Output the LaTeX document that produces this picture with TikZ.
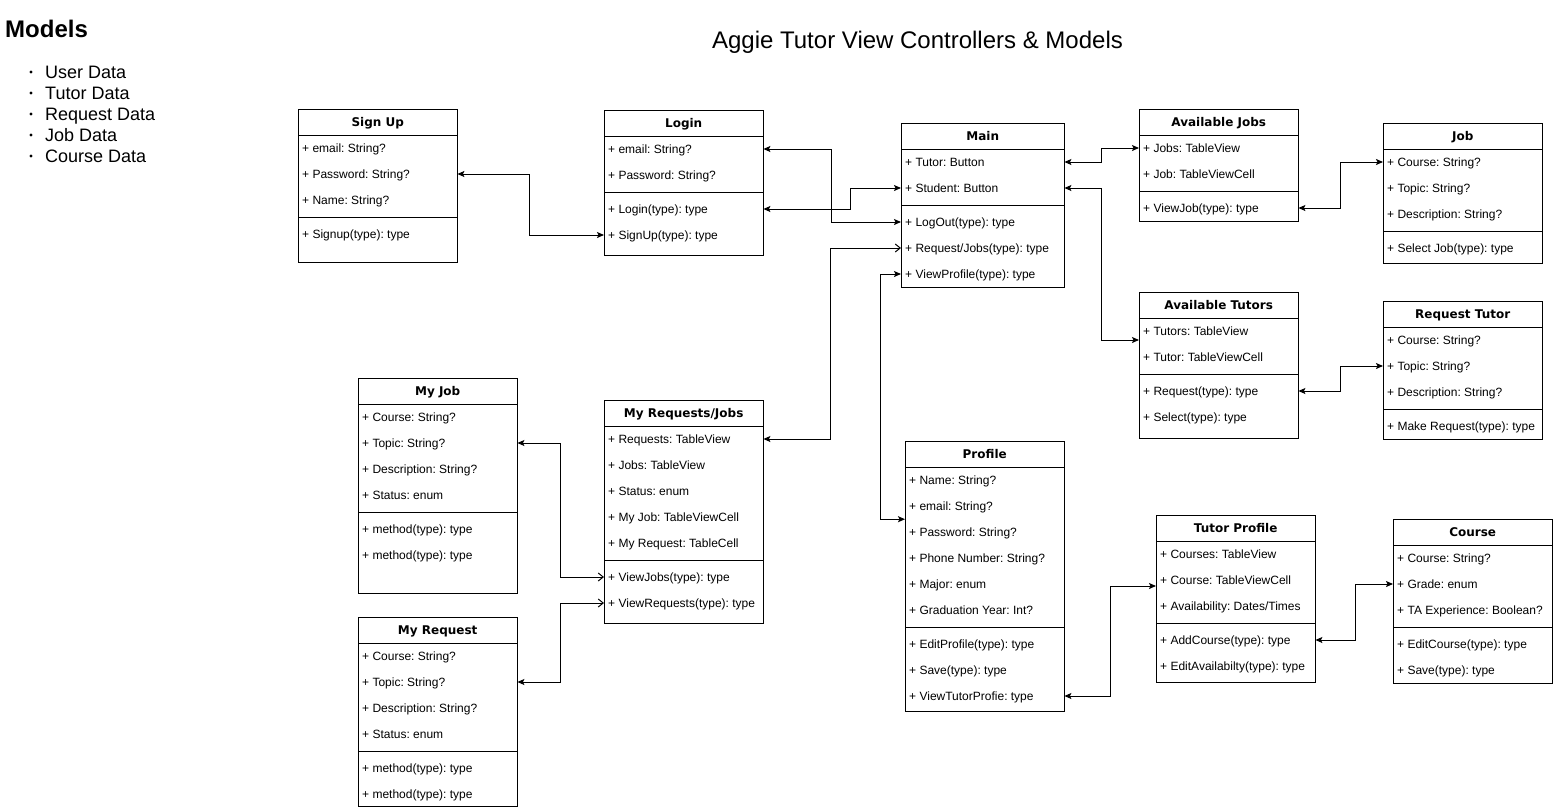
\documentclass[tikz,border=0pt]{standalone}
\usepackage{fontspec}
\setmainfont{Liberation Sans}
\newfontfamily\headfont{DejaVu Sans}
\usepackage{tikz}
\usetikzlibrary{arrows.meta, positioning, calc}
\frenchspacing

\tikzset{
  classhead/.style={anchor=north west, inner sep=0pt, minimum height=26pt,
    text height=8.8pt, text depth=0pt,
    font=\headfont\bfseries\fontsize{12}{14}\selectfont},
  classrow/.style={anchor=west, inner xsep=4pt, inner ysep=0pt, minimum height=26pt,
    text height=8.6pt, text depth=0pt,
    font=\fontsize{12}{14}\selectfont},
  classline/.style={draw=black, line width=1pt},
  link/.style={draw=black, line width=1pt,
    {Stealth[length=7pt,width=6pt,inset=1.5pt]}-{Stealth[length=7pt,width=6pt,inset=1.5pt]}},
  linkopen/.style={draw=black, line width=1pt,
    {Stealth[length=7pt,width=6pt,inset=1.5pt]}-{Straight Barb[length=5pt,width=8pt]}},
}

% name, left, top, width, title, attributes, methods, extra height
\newcommand{\umlclass}[8]{%
  \node[classhead, minimum width=#4pt] (#1) at (#2,#3) {#5};
  \foreach \rowtext [count=\i] in {#6} {
    \node[classrow] (#1-a\i) at (#2,#3+13+26*\i) {\rowtext};
    \xdef\nattr{\i}
  }
  \pgfmathsetmacro\ysep{#3+26+26*\nattr+4}
  \foreach \rowtext [count=\i] in {#7} {
    \node[classrow] (#1-m\i) at (#2,\ysep-9+26*\i) {\rowtext};
    \xdef\nmeth{\i}
  }
  \draw[classline] (#2,#3) rectangle (#2+#4,\ysep+4+26*\nmeth+#8);
  \draw[classline] (#2,#3+26) -- ++(#4,0);
  \draw[classline] (#2,\ysep) -- ++(#4,0);
}

\begin{document}
\begin{tikzpicture}[x=1pt,y=-1pt]
  \useasboundingbox (0,0) rectangle (1553,809);

  \node[anchor=base west, inner sep=0pt, font=\bfseries\fontsize{24}{28}\selectfont] (models) at (5,37.5) {Models};
  \foreach \item [count=\i] in {User Data, Tutor Data, Request Data, Job Data, Course Data} {
    \fill (31,51+21*\i) circle (1.6);
    \node[anchor=base west, inner sep=0pt, font=\fontsize{18}{21}\selectfont] (model-\i) at (45,57+21*\i) {\item};
  }
  \node[anchor=base, inner sep=0pt, font=\fontsize{24}{28}\selectfont] (title) at (917.5,48) {Aggie Tutor View Controllers \& Models};

  \umlclass{signup}{298}{109}{159}{Sign Up}{+ email: String?,+ Password: String?,+ Name: String?}{+ Signup(type): type}{15}
  \umlclass{login}{604}{110}{159}{Login}{+ email: String?,+ Password: String?}{+ Login(type): type,+ SignUp(type): type}{7}
  \umlclass{main}{901}{123}{163}{Main}{+ Tutor: Button,+ Student: Button}{+ LogOut(type): type,+ Request/Jobs(type): type,+ ViewProfile(type): type}{0}
  \umlclass{avjobs}{1139}{109}{159}{Available Jobs}{+ Jobs: TableView,+ Job: TableViewCell}{+ ViewJob(type): type}{0}
  \umlclass{job}{1383}{123}{159}{Job}{+ Course: String?,+ Topic: String?,+ Description: String?}{+ Select Job(type): type}{2}
  \umlclass{avtutors}{1139}{292}{159}{Available Tutors}{+ Tutors: TableView,+ Tutor: TableViewCell}{+ Request(type): type,+ Select(type): type}{8}
  \umlclass{reqtutor}{1383}{301}{159}{Request Tutor}{+ Course: String?,+ Topic: String?,+ Description: String?}{+ Make Request(type): type}{0}
  \umlclass{myjob}{358}{378}{159}{My Job}{+ Course: String?,+ Topic: String?,+ Description: String?,+ Status: enum}{+ method(type): type,+ method(type): type}{25}
  \umlclass{myrj}{604}{400}{159}{My Requests/Jobs}{+ Requests: TableView,+ Jobs: TableView,+ Status: enum,+ My Job: TableViewCell,+ My Request: TableCell}{+ ViewJobs(type): type,+ ViewRequests(type): type}{7}
  \umlclass{myreq}{358}{617}{159}{My Request}{+ Course: String?,+ Topic: String?,+ Description: String?,+ Status: enum}{+ method(type): type,+ method(type): type}{-1}
  \umlclass{profile}{905}{441}{159}{Profile}{+ Name: String?,+ email: String?,+ Password: String?,+ Phone Number: String?,+ Major: enum,+ Graduation Year: Int?}{+ EditProfile(type): type,+ Save(type): type,+ ViewTutorProfie: type}{2}
  \umlclass{tprofile}{1156}{515}{159}{Tutor Profile}{+ Courses: TableView,+ Course: TableViewCell,+ Availability: Dates/Times}{+ AddCourse(type): type,+ EditAvailabilty(type): type}{3}
  \umlclass{course}{1393}{519}{159}{Course}{+ Course: String?,+ Grade: enum,+ TA Experience: Boolean?}{+ EditCourse(type): type,+ Save(type): type}{0}

  \draw[link] (signup-a2 -| signup.east) -- ++(72,0) |- (login-m2.west);
  \draw[link] (login-a1 -| login.east) -- ++(68,0) |- (main-m1.west);
  \draw[link] (login-m1 -| login.east) -- ++(87,0) |- (main-a2.west);
  \draw[linkopen] (myrj-a1 -| myrj.east) -- ++(67,0) |- (main-m2.west);
  \draw[link] (main-m3.west) -- ++(-21,0) |- (profile-a2.south west);
  \draw[link] (main-a1 -| main.east) -- ++(37,0) |- (avjobs-a1.west);
  \draw[link] (main-a2 -| main.east) -- ++(37,0) |- ([yshift=-9pt]avtutors-a1.west);
  \draw[link] (avjobs-m1 -| avjobs.east) -- ++(42,0) |- (job-a1.west);
  \draw[link] (avtutors-m1 -| avtutors.east) -- ++(42,0) |- (reqtutor-a2.west);
  \draw[linkopen] (myjob-a2 -| myjob.east) -- ++(43,0) |- (myrj-m1.west);
  \draw[linkopen] (myreq-a2 -| myreq.east) -- ++(43,0) |- (myrj-m2.west);
  \draw[link] (profile-m3 -| profile.east) -- ++(46,0) |- ([yshift=-6pt]tprofile-a2.west);
  \draw[link] (tprofile-m1 -| tprofile.east) -- ++(40,0) |- (course-a2.west);
\end{tikzpicture}
\end{document}
